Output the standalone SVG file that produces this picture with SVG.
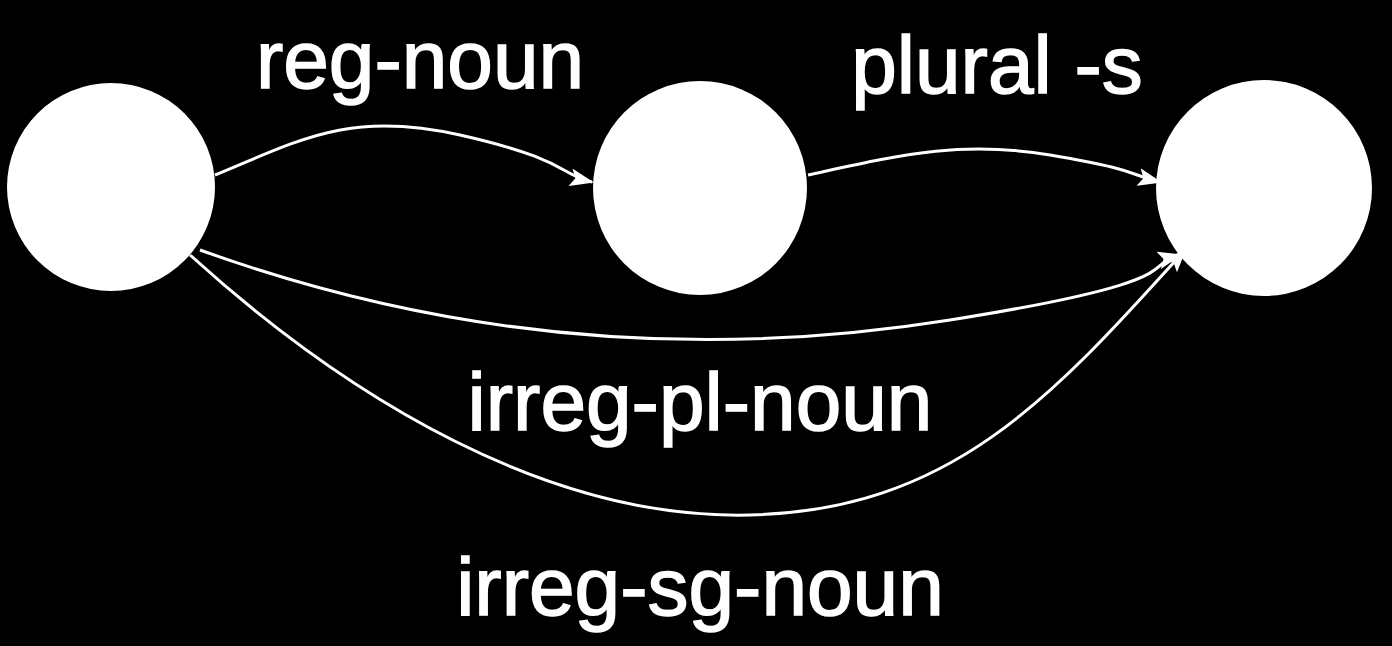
<svg xmlns="http://www.w3.org/2000/svg" width="1392" height="646" viewBox="0 0 1392 646">
<style>
.n{fill:#fff}
.e{fill:none;stroke:#fff;stroke-width:3}
.t{fill:#fff;stroke:#fff;stroke-width:1.5;font-family:"Liberation Sans",Arial,sans-serif;font-size:82px;text-anchor:middle}
</style>
<defs><marker id="b" markerWidth="24" markerHeight="18" refX="22" refY="9" orient="auto" markerUnits="userSpaceOnUse"><path d="M0,0L24,9L0,18L5,9z" fill="#fff"/></marker></defs>
<rect width="1392" height="646" fill="#000"/>
<g id="s0"><circle class="n" cx="111" cy="187" r="104"/></g>
<g id="s1"><circle class="n" cx="700" cy="188" r="107"/></g>
<g id="s2"><circle class="n" cx="1264" cy="188" r="108"/></g>
<g id="edges">
<path class="e" marker-end="url(#b)" d="M215,175C300,140 350,110 460,135S560,175 592,182"/>
<path class="e" marker-end="url(#b)" d="M808,175C900,155 960,140 1050,155S1130,175 1160,182"/>
<path class="e" marker-end="url(#b)" d="M200,250C450,340 700,360 950,320S1140,265 1180,255"/>
<path class="e" marker-end="url(#b)" d="M190,255C350,400 550,520 750,515S1050,400 1185,250"/>
</g>
<g id="labels">
<text class="t" x="420" y="88">reg-noun</text>
<text class="t" x="997" y="93">plural -s</text>
<text class="t" x="700" y="430">irreg-pl-noun</text>
<text class="t" x="700" y="615">irreg-sg-noun</text>
</g>
</svg>
